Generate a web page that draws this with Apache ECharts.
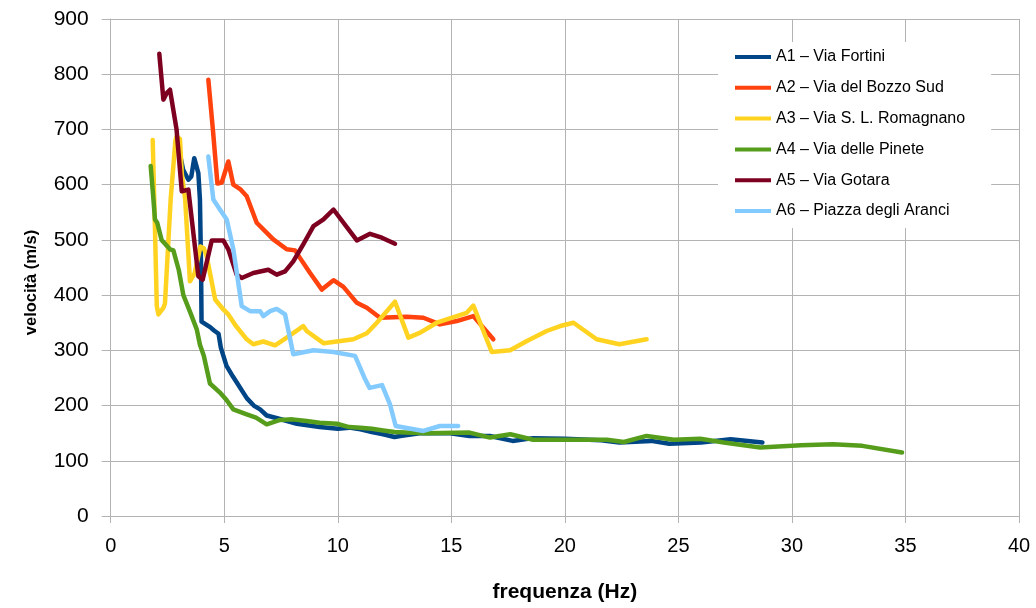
<!DOCTYPE html>
<html>
<head>
<meta charset="utf-8">
<script src="https://cdn.jsdelivr.net/npm/echarts@6/dist/echarts.min.js"></script>
<style>
html,body{margin:0;padding:0;background:#fff;}
#c{width:1036px;height:608px;}
</style>
</head>
<body>
<div id="c"></div>
<script>
// ---- data (frequenza Hz, velocità m/s) ----
const seriesNames = ["A1 – Via Fortini","A2 – Via del Bozzo Sud","A3 – Via S. L. Romagnano","A4 – Via delle Pinete","A5 – Via Gotara","A6 – Piazza degli Aranci"];
const xTicks = [0,5,10,15,20,25,30,35,40];
const yTicks = [0,100,200,300,400,500,600,700,800,900];

const a1 = [[2.95,675],[3.19,627],[3.42,609],[3.55,615],[3.68,648],[3.86,621],[3.93,573],[3.98,450],[4.0,352],[4.38,342],[4.55,336],[4.75,330],[4.85,305],[5.1,272],[5.39,252],[6.0,213],[6.3,200],[6.58,193],[6.87,182],[7.33,177],[8.2,167],[9.2,161],[10.0,158],[10.5,160],[11.0,157],[11.5,152],[12.0,148],[12.5,143],[12.75,145],[13.6,150],[14.95,150],[15.8,145],[16.7,145],[17.7,136],[18.6,141],[20.0,140],[21.6,137],[22.4,133],[23.8,136],[24.6,131],[26.0,133],[27.3,139],[28.7,133]];
const a2 = [[4.3,790],[4.5,700],[4.7,602],[4.89,604],[5.18,642],[5.4,600],[5.7,592],[5.99,579],[6.43,531],[7.16,501],[7.75,483],[8.12,481],[8.34,467],[8.78,440],[9.3,410],[9.81,427],[10.25,415],[10.84,386],[11.28,377],[11.86,359],[13.04,361],[13.77,359],[14.5,347],[15.24,353],[15.97,362],[16.85,320]];
const a3 = [[1.85,681],[1.95,520],[2.03,380],[2.1,365],[2.32,377],[2.39,385],[2.64,573],[2.85,680],[2.9,687],[3.05,683],[3.13,620],[3.28,573],[3.49,425],[3.7,440],[3.95,488],[4.1,485],[4.23,470],[4.6,392],[4.96,374],[5.18,365],[5.5,345],[5.99,320],[6.28,311],[6.72,316],[7.24,309],[7.75,323],[8.48,344],[8.63,335],[9.37,313],[9.96,316],[10.69,320],[11.28,331],[11.72,350],[12.52,388],[13.11,323],[13.63,332],[14.36,350],[15.24,362],[15.68,368],[15.97,381],[16.78,297],[17.59,300],[18.33,317],[19.2,335],[19.8,344],[20.38,350],[21.4,320],[22.4,311],[23.6,320]];
const a4 = [[1.76,634],[1.85,590],[1.95,537],[2.05,531],[2.24,500],[2.35,495],[2.61,483],[2.76,481],[3.0,445],[3.2,400],[3.49,370],[3.79,338],[3.93,310],[4.1,290],[4.37,240],[4.8,224],[5.1,210],[5.4,193],[5.99,184],[6.4,178],[6.87,166],[7.46,174],[8.0,175],[8.63,172],[9.2,169],[9.96,167],[10.5,161],[11.0,160],[11.5,158],[12.0,155],[12.5,152],[13.0,151],[13.9,150],[15.8,151],[16.7,142],[17.6,148],[18.6,138],[20.1,138],[21.85,138],[22.6,134],[23.6,145],[24.8,138],[25.96,140],[27.0,133],[28.6,124],[30.4,128],[31.8,130],[33.1,127],[34.85,115]];
const a5 = [[2.14,837],[2.32,754],[2.47,766],[2.61,772],[2.9,700],[3.13,588],[3.42,591],[3.86,434],[4.05,428],[4.45,499],[4.96,499],[5.18,483],[5.55,437],[5.77,431],[6.28,440],[6.94,446],[7.31,437],[7.68,443],[8.04,461],[8.48,492],[8.93,525],[9.37,537],[9.81,555],[10.84,499],[11.42,511],[11.94,504],[12.52,493]];
const a6 = [[4.3,651],[4.52,573],[4.81,555],[5.11,537],[5.4,483],[5.77,380],[6.14,371],[6.58,371],[6.72,362],[7.02,371],[7.31,375],[7.68,365],[8.04,293],[8.93,300],[9.81,297],[10.76,290],[11.2,248],[11.4,232],[11.95,237],[12.3,202],[12.55,163],[13.77,154],[14.5,163],[15.3,163]];

const seriesData = [a1,a2,a3,a4,a5,a6];
const colors = ["#004586","#ff420e","#ffd320","#579d1c","#7e0021","#83caff"];

const chart = echarts.init(document.getElementById('c'), null, {renderer:'canvas'});
const gridColor = '#b3b3b3';
const fam = 'Liberation Sans, Arial, sans-serif';
chart.setOption({
  animation:false,
  backgroundColor:'#fff',
  color: colors,
  grid:{left:110.7, top:19, right:17, bottom:91, containLabel:false},
  legend:{
    orient:'vertical',
    left:718, top:42,
    backgroundColor:'#fff',
    padding:[6,26,8,17],
    itemWidth:36, itemHeight:4, itemGap:12.8,
    icon:'rect',
    textStyle:{fontFamily:fam, fontSize:16, color:'#000', lineHeight:18},
    data: seriesNames
  },
  xAxis:{
    type:'value', min:0, max:40, interval:5,
    name:'frequenza (Hz)', nameLocation:'middle', nameGap:66,
    nameTextStyle:{fontFamily:fam, fontWeight:'bold', fontSize:21, color:'#000'},
    axisLine:{show:true, lineStyle:{color:gridColor, width:1}},
    axisTick:{show:true, length:7, lineStyle:{color:gridColor}},
    axisLabel:{fontFamily:fam, fontSize:20, color:'#000', margin:20},
    splitLine:{show:true, lineStyle:{color:gridColor, width:1}}
  },
  yAxis:{
    type:'value', min:0, max:900, interval:100,
    name:'velocità (m/s)', nameLocation:'middle', nameGap:71,
    nameTextStyle:{fontFamily:fam, fontWeight:'bold', fontSize:16.5, color:'#000', padding:[0,30,0,0]},
    axisLine:{show:true, lineStyle:{color:gridColor, width:1}},
    axisTick:{show:true, length:9, lineStyle:{color:gridColor}},
    axisLabel:{fontFamily:fam, fontSize:21, color:'#000', margin:22},
    splitLine:{show:true, lineStyle:{color:gridColor, width:1}}
  },
  series: seriesNames.map((n,i)=>({
    name:n, type:'line', data:seriesData[i],
    showSymbol:false, symbol:'none',
    lineStyle:{width:4.5, color:colors[i], join:'round', cap:'round'},
    itemStyle:{color:colors[i]},
    z:2+i
  }))
});
</script>
</body>
</html>
